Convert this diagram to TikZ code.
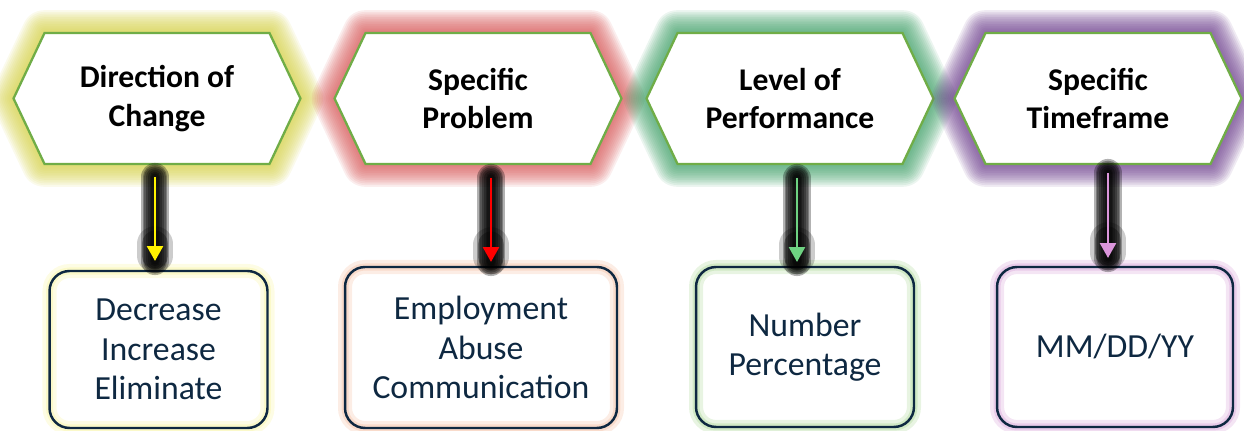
\documentclass[tikz,border=0pt]{standalone}
\usepackage{fontspec}
\setmainfont{Carlito}
\usetikzlibrary{arrows.meta,calc,backgrounds}
\definecolor{hexline}{RGB}{112,173,71}
\definecolor{navy}{RGB}{14,40,65}
\definecolor{glowy}{RGB}{212,208,70}
\definecolor{glowr}{RGB}{214,86,86}
\definecolor{glowg}{RGB}{64,160,104}
\definecolor{glowp}{RGB}{108,62,140}
\definecolor{arrg}{RGB}{110,210,130}
\definecolor{arrp}{RGB}{220,150,220}
\definecolor{shy}{RGB}{245,240,120}
\definecolor{shr}{RGB}{240,165,125}
\definecolor{shg}{RGB}{140,200,110}
\definecolor{shp}{RGB}{200,125,200}
\newcommand{\hexoutline}[1]{(#1.north west) -- (#1.north east) -- ([xshift=0.62cm]#1.east)
    -- (#1.south east) -- (#1.south west) -- ([xshift=-0.62cm]#1.west) -- cycle}

\begin{document}
\begin{tikzpicture}[x=0.02cm,y=-0.02cm,
    hex/.style={minimum width=4.5cm,minimum height=2.62cm,inner sep=0pt,outer sep=0pt,align=center,
        font=\bfseries\fontsize{18}{21.8}\selectfont},
    hexa/.style={draw=hexline,line width=1.3pt,fill=white},
    glow/.style={draw=#1,draw opacity=.1,line join=round},
    box/.style={align=center,text=navy,inner sep=0pt,font=\fontsize{19.2}{22.5}\selectfont,
        draw=navy,line width=1.4pt,rounded corners=0.4cm,outer sep=0pt,
        preaction={draw=#1,draw opacity=.2,line width=8pt},
        preaction={draw=#1,draw opacity=.25,line width=4pt}},
    arr/.style={draw=#1,line width=1.6pt,-{Triangle[width=9pt,length=8.5pt]},
        preaction={draw=black,draw opacity=.3,line width=16pt,line cap=round,-},
        preaction={draw=black,draw opacity=.3,line width=14pt,line cap=round,-},
        preaction={draw=black,draw opacity=.3,line width=12pt,line cap=round,-},
        preaction={draw=black,draw opacity=.3,line width=10pt,line cap=round,-},
        preaction={draw=black,draw opacity=.3,line width=8pt,line cap=round,-},
        preaction={draw=black,draw opacity=.3,line width=6pt,line cap=round,-},
        preaction={draw=black,draw opacity=.3,line width=4pt,line cap=round,-},
        preaction={draw=black,draw opacity=.2,line width=20pt,line cap=round,shorten <=38pt,shorten >=3pt,-},
        preaction={draw=black,draw opacity=.3,line width=15pt,line cap=round,shorten <=38pt,shorten >=3pt,-}}]
    \useasboundingbox (0,0) rectangle (1244,431);

    % top row
    \node[hex] (h1) at (157,98.5) {Direction of\\Change};
    \node[hex] (h2) at (478,98.5) {Specific\\Problem};
    \node[hex] (h3) at (790,98.5) {Level of\\Performance};
    \node[hex] (h4) at (1098,98.5) {Specific\\Timeframe};

    % bottom row
    \node[box=shy,minimum width=4.36cm,minimum height=3.14cm] (b1) at (158.5,349.5) {Decrease\\Increase\\Eliminate};
    \node[box=shr,minimum width=5.44cm,minimum height=3.22cm] (b2) at (481,347.5) {Employment\\Abuse\\Communication};
    \node[box=shg,minimum width=4.36cm,minimum height=3.2cm] (b3) at (805,347) {Number\\Percentage};
    \node[box=shp,minimum width=4.72cm,minimum height=3.2cm] (b4) at (1115,347) {MM/DD/YY};

    \begin{scope}[on background layer]
        \foreach \hx/\col in {h1/glowy,h2/glowr,h3/glowg,h4/glowp} {
            \foreach \w in {2,4,...,26}
                \draw[glow=\col,line width=\w pt] \hexoutline{\hx};
            \draw[hexa] \hexoutline{\hx};
        }
    \end{scope}

    % connectors
    \draw[arr=yellow] ($(h1.south)+(-2,13)$) -- ($(b1.north -| h1.south)+(-2,-10)$);
    \draw[arr=red] ($(h2.south)+(13,14)$) -- ($(b2.north -| h2.south)+(13,-5)$);
    \draw[arr=arrg] ($(h3.south)+(7,14)$) -- ($(b3.north -| h3.south)+(7,-5)$);
    \draw[arr=arrp] ($(h4.south)+(10,9)$) -- ($(b4.north -| h4.south)+(10,-9)$);
\end{tikzpicture}
\end{document}
